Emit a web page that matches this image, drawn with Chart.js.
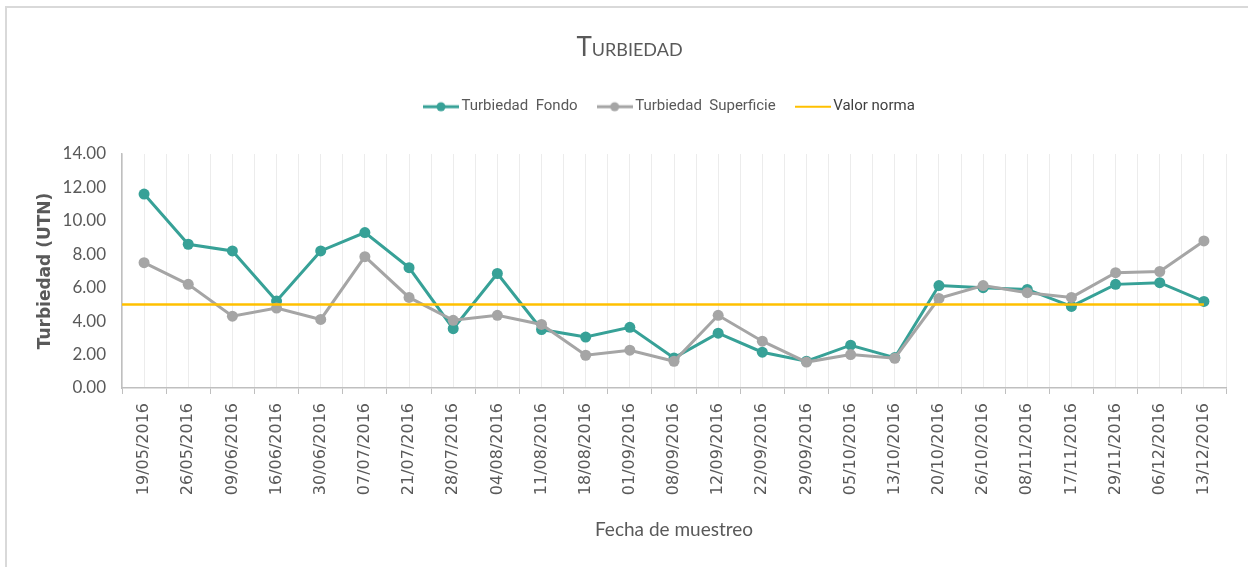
<!DOCTYPE html>
<html><head><meta charset="utf-8">
<script src="https://cdn.jsdelivr.net/npm/chart.js@4.4.1/dist/chart.umd.min.js"></script>
<style>
html,body{margin:0;padding:0;background:#fff;width:1248px;height:567px;overflow:hidden}
#frame{position:absolute;left:5px;top:6px;width:1241px;height:559px;border-left:2px solid #d9d9d9;border-top:2px solid #d9d9d9;background:#fff}
canvas{display:block}
</style></head><body>
<div id="frame"><canvas id="c" width="1241" height="559"></canvas></div>
<script>
const fechas = ['19/05/2016','26/05/2016','09/06/2016','16/06/2016','30/06/2016','07/07/2016','21/07/2016','28/07/2016','04/08/2016','11/08/2016','18/08/2016','01/09/2016','08/09/2016','12/09/2016','22/09/2016','29/09/2016','05/10/2016','13/10/2016','20/10/2016','26/10/2016','08/11/2016','17/11/2016','29/11/2016','06/12/2016','13/12/2016'];
const turbiedadFondo = [11.6, 8.6, 8.2, 5.2, 8.2, 9.3, 7.2, 3.55, 6.85, 3.5, 3.05, 3.63, 1.8, 3.28, 2.14, 1.6, 2.56, 1.82, 6.13, 6.0, 5.9, 4.88, 6.2, 6.3, 5.18];
const turbiedadSuperficie = [7.5, 6.2, 4.3, 4.78, 4.1, 7.86, 5.42, 4.05, 4.35, 3.8, 1.96, 2.26, 1.6, 4.35, 2.8, 1.55, 2.0, 1.78, 5.36, 6.13, 5.7, 5.42, 6.9, 6.97, 8.8];
const valorNorma = 5;
const yMin = 0, yMax = 14, yStep = 2;

const TEAL = '#37A197', GREY = '#A5A5A5', GOLD = '#FFC000', TXT = '#595959';

function marker(color, lw, dot) {
  const c = document.createElement('canvas');
  c.width = 36; c.height = 12;
  const g = c.getContext('2d');
  g.strokeStyle = color; g.lineWidth = lw;
  g.beginPath(); g.moveTo(0, 6); g.lineTo(36, 6); g.stroke();
  if (dot) { g.fillStyle = color; g.beginPath(); g.arc(18, 6, 4.5, 0, Math.PI * 2); g.fill(); }
  return c;
}
const markers = [marker(TEAL, 3, true), marker(GREY, 3, true), marker(GOLD, 2, false)];

const normaData = [{x: -0.5, y: valorNorma}, {x: fechas.length - 1, y: valorNorma}];

const layoutFix = {
  id: 'layoutFix',
  afterLayout(chart) {
    const lg = chart.legend;
    if (lg && lg.lineWidths) {
      const pad = lg.options.labels.padding;
      const start = (lg.left + pad + lg.right - lg.lineWidths[0]) / 2;
      const d = 421 - start;
      lg.left += d; lg.right += d;
    }
    const tb = chart.titleBlock;
    if (tb) { tb.left += 13; tb.right += 13; }
  }
};

new Chart(document.getElementById('c'), {
  type: 'line',
  data: {
    labels: fechas,
    datasets: [
      { label: 'Turbiedad  Fondo', data: turbiedadFondo, borderColor: TEAL, backgroundColor: TEAL,
        borderWidth: 3, pointRadius: 5.5, pointHoverRadius: 5.5, pointBorderWidth: 0, tension: 0, order: 3 },
      { label: 'Turbiedad  Superficie', data: turbiedadSuperficie, borderColor: GREY, backgroundColor: GREY,
        borderWidth: 3, pointRadius: 5.5, pointHoverRadius: 5.5, pointBorderWidth: 0, tension: 0, order: 2 },
      { label: 'Valor norma', data: normaData, xAxisID: 'xn', borderColor: GOLD, backgroundColor: GOLD,
        borderWidth: 2.5, pointRadius: 0, tension: 0, order: 1 }
    ]
  },
  options: {
    responsive: false,
    animation: false,
    layout: { padding: { left: 0, right: 22, top: 0, bottom: 0 } },
    plugins: {
      tooltip: { enabled: false },
      title: {
        display: true, text: 'Turbiedad', color: TXT,
        font: { family: 'Lato', size: 26, weight: 'small-caps' },
        padding: { top: 24, bottom: 12 }
      },
      legend: {
        display: true, position: 'top',
        labels: {
          usePointStyle: true, pointStyleWidth: 26, padding: 24,
          font: { family: 'Roboto', size: 15 }, color: TXT,
          sort: (a, b) => a.datasetIndex - b.datasetIndex,
          generateLabels(chart) {
            return chart.data.datasets.map((ds, i) => ({
              text: ds.label, datasetIndex: i, pointStyle: markers[i],
              fillStyle: ds.borderColor, strokeStyle: ds.borderColor, lineWidth: 0,
              hidden: false, fontColor: i === 2 ? '#404040' : TXT
            }));
          }
        }
      }
    },
    scales: {
      x: {
        type: 'category', position: 'bottom', offset: true,
        grid: { display: true, offset: true, color: '#ececec', lineWidth: 1, drawTicks: true, tickLength: 6, tickColor: '#bfbfbf' },
        border: { display: true, color: '#bfbfbf', width: 1.5 },
        ticks: { minRotation: 90, maxRotation: 90, autoSkip: false, padding: 9, color: TXT,
                 font: { family: 'DejaVu Sans', size: 16 } },
        title: { display: true, text: 'Fecha de muestreo', color: TXT,
                 font: { family: 'Lato', size: 19 }, padding: { top: 4, bottom: 26 } },
        afterFit(s) { s.height = 179; }
      },
      x2: {
        type: 'category', position: 'top', offset: true,
        grid: { display: true, offset: false, color: '#ececec', lineWidth: 1, drawTicks: false },
        border: { display: false },
        ticks: { display: false },
        afterFit(s) { s.height = 29.8; }
      },
      xn: { type: 'linear', display: false, min: -0.5, max: fechas.length - 0.5 },
      y: {
        min: yMin, max: yMax,
        grid: { display: false },
        border: { display: true, color: '#bfbfbf', width: 1.5 },
        ticks: { stepSize: yStep, padding: 8, color: TXT, font: { family: 'Lato', size: 17 },
                 callback: v => Number(v).toFixed(2) },
        title: { display: true, text: 'Turbiedad (UTN)', color: TXT,
                 font: { family: 'DejaVu Sans', size: 17, weight: 'bold' }, padding: { top: 28, bottom: 4 } },
        afterFit(s) { s.width = 115; }
      }
    }
  },
  plugins: [layoutFix]
});
</script>
</body></html>
